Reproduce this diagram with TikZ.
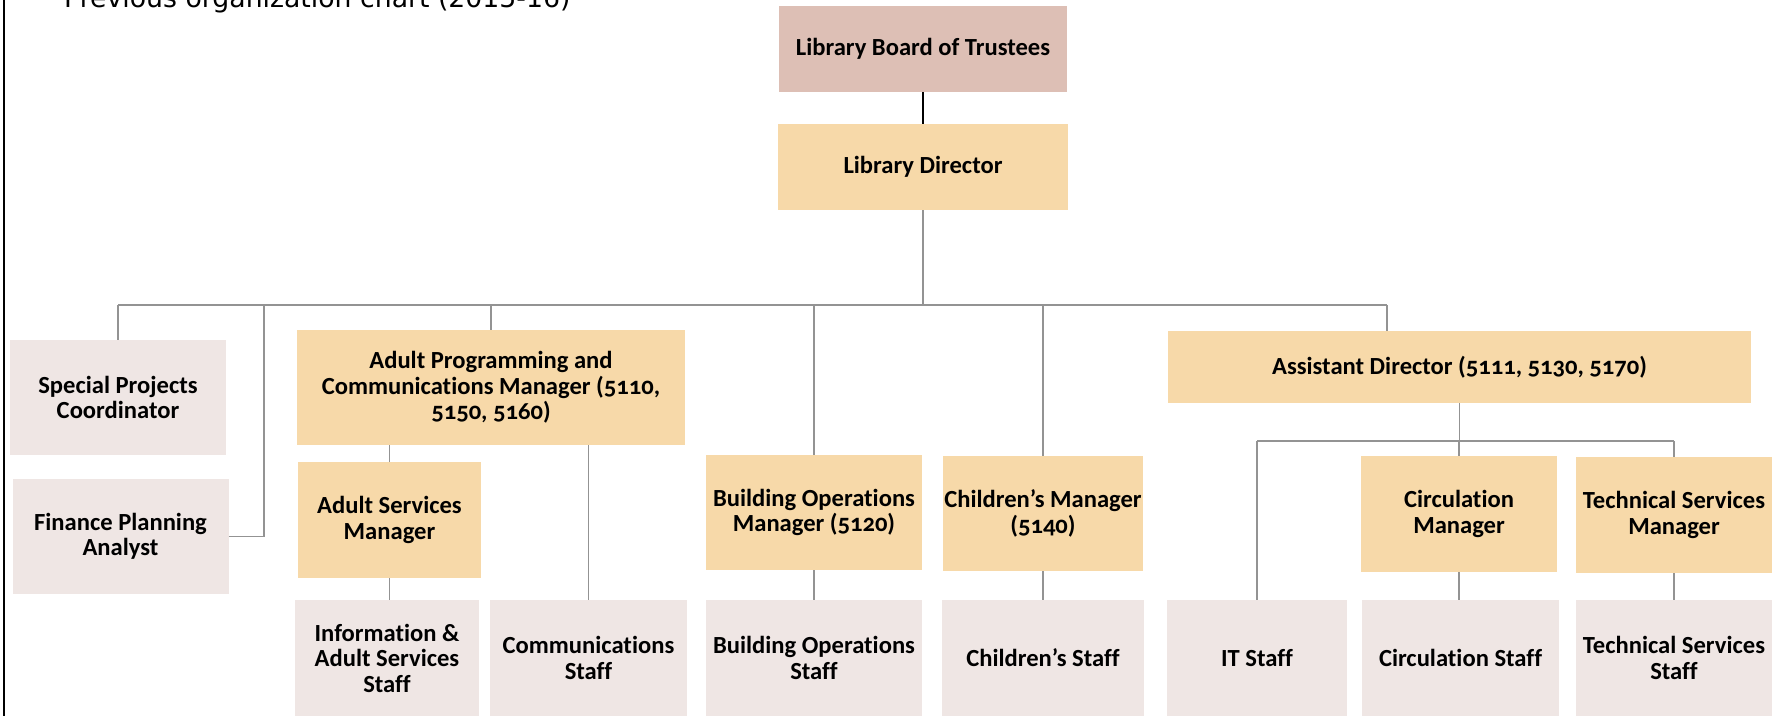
\documentclass[tikz,border=0pt]{standalone}
\usepackage{fontspec}
\setmainfont{Carlito}[Numbers=OldStyle, Ligatures=NoCommon]
\newfontfamily\titlefont{DejaVu Sans}
\definecolor{boardfill}{HTML}{DDBFB5}
\definecolor{mgrfill}{HTML}{F7D9A9}
\definecolor{stafffill}{HTML}{EFE6E4}
\definecolor{linegray}{HTML}{939393}
\newlength\px
\setlength\px{0.02cm}
\tikzset{
  box/.style={inner sep=0pt, align=center, font=\bfseries\fontsize{14}{14.5}\selectfont},
  boxsize/.style 2 args={minimum width=#1\px, minimum height=#2\px},
  board/.style={box, fill=boardfill},
  mgr/.style={box, fill=mgrfill},
  staff/.style={box, fill=stafffill},
  link/.style={draw=linegray, line width=0.7pt},
}
\begin{document}
\begin{tikzpicture}[x=0.02cm, y=-0.02cm]
\useasboundingbox (0,0) rectangle (1783,716);
\draw[line width=1.5pt] (4,0) -- (4,716);
\node[anchor=base west, font=\titlefont\fontsize{15.2}{18}\selectfont] (title) at (58,7.5) {Previous organization chart (2015-16)};

\node[board, boxsize={288}{86}] (board) at (923,49) {Library Board of Trustees};
\node[mgr, boxsize={290}{86}] (dir) at (923,167) {Library Director};
\node[staff, boxsize={216}{115}] (spc) at (118,397.5) {Special Projects\\Coordinator};
\node[staff, boxsize={216}{115}] (fpa) at (120.5,536.5) {Finance Planning\\Analyst};
\node[mgr, boxsize={388}{115}] (apc) at (491,387.5) {Adult Programming and\\Communications Manager (5110,\\5150, 5160)};
\node[mgr, boxsize={183}{116}] (asm) at (389.5,520) {Adult Services\\Manager};
\node[staff, boxsize={184}{116}] (info) at (387,658) {Information \&\\Adult Services\\Staff};
\node[staff, boxsize={197}{116}] (comm) at (588.5,658) {Communications\\Staff};
\node[mgr, boxsize={216}{115}] (bom) at (814,512.5) {Building Operations\\Manager (5120)};
\node[staff, boxsize={216}{116}] (bos) at (814,658) {Building Operations\\Staff};
\node[mgr, boxsize={200}{115}] (chm) at (1043,513.5) {Children’s Manager\\(5140)};
\node[staff, boxsize={202}{116}] (chs) at (1043,658) {Children’s Staff};
\node[mgr, boxsize={583}{72}] (ad) at (1459.5,367) {Assistant Director (5111, 5130, 5170)};
\node[staff, boxsize={180}{116}] (its) at (1257,658) {IT Staff};
\node[mgr, boxsize={196}{116}] (cim) at (1459,514) {Circulation\\Manager};
\node[staff, boxsize={197}{116}] (cis) at (1460.5,658) {Circulation Staff};
\node[mgr, boxsize={196}{116}] (tsm) at (1674,515) {Technical Services\\Manager};
\node[staff, boxsize={196}{116}] (tss) at (1674,658) {Technical Services\\Staff};

% buses
\coordinate (busL) at (118,305);
\coordinate (busR) at (1387,305);
\coordinate (fpaT) at (264,305);
\coordinate (subL) at (1257,441);
\coordinate (subR) at (1674,441);

\draw[line width=1pt] (board.south) -- (dir.north);
\draw[link] (dir.south) -- (dir.south |- busL);
\draw[link] (busL) -- (busR);
\draw[link] (spc.north) -- (busL);
\draw[link] (fpa.east) -| (fpaT);
\draw[link] (apc.north) -- (apc.north |- busL);
\draw[link] (bom.north) -- (bom.north |- busL);
\draw[link] (chm.north) -- (chm.north |- busL);
\draw[link] (ad.north -| busR) -- (busR);
\draw[link] (asm.north) -- (asm.north |- apc.south);
\draw[link] (comm.north) -- (comm.north |- apc.south);
\draw[link] (asm.south) -- (asm.south |- info.north);
\draw[link] (bom.south) -- (bos.north);
\draw[link] (chm.south) -- (chs.north);
\draw[link] (ad.south) -- (ad.south |- subL);
\draw[link] (subL) -- (subR);
\draw[link] (its.north) -- (subL);
\draw[link] (cim.north) -- (cim.north |- subL);
\draw[link] (tsm.north) -- (subR);
\draw[link] (cim.south) -- (cim.south |- cis.north);
\draw[link] (tsm.south) -- (tss.north);
\end{tikzpicture}
\end{document}
